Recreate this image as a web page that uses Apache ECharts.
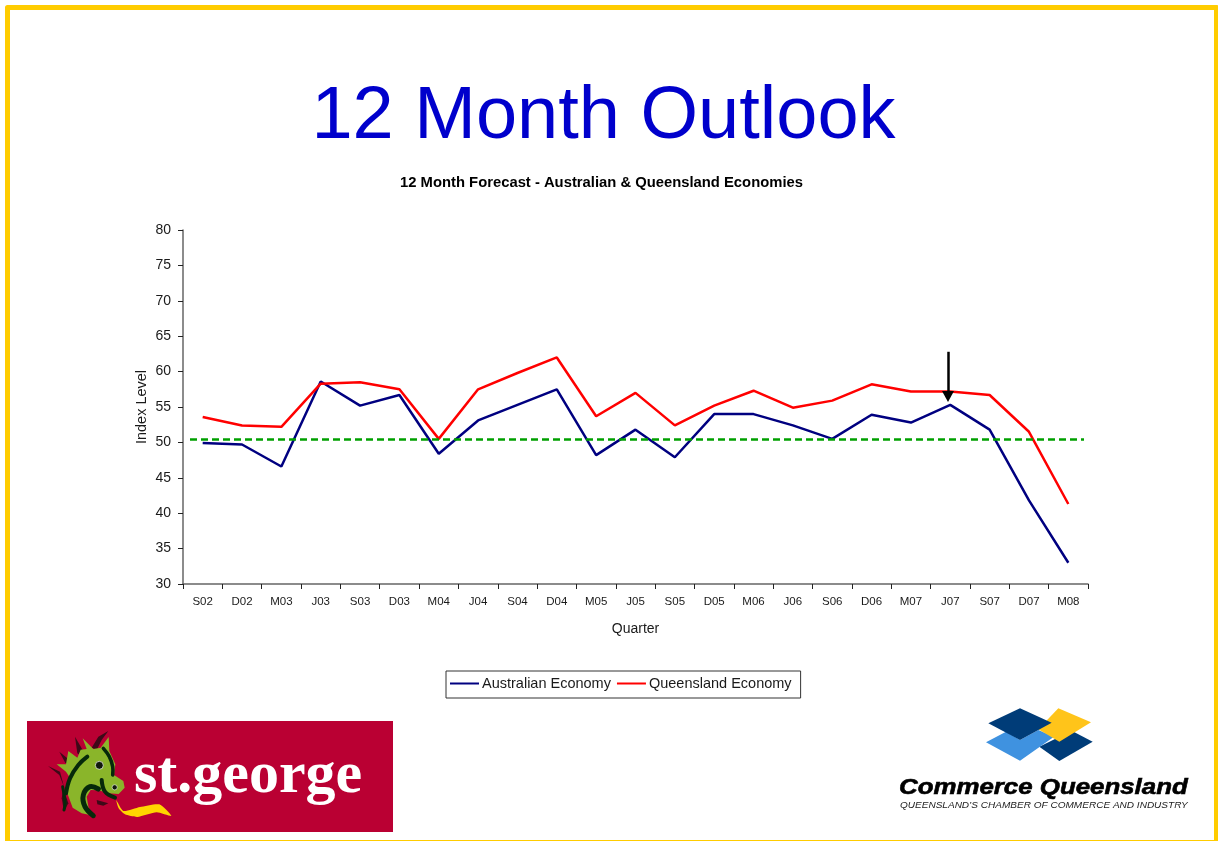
<!DOCTYPE html>
<html><head><meta charset="utf-8">
<style>html,body{margin:0;padding:0;background:#fff}#c{width:1218px;height:841px}</style>
<script src="https://cdn.jsdelivr.net/npm/echarts@6/dist/echarts.min.js"></script>
</head><body><div id="c"></div>
<script>
const quarters = ['S02','D02','M03','J03','S03','D03','M04','J04','S04','D04','M05','J05','S05','D05','M06','J06','S06','D06','M07','J07','S07','D07','M08'];
const australianEconomy = [49.9,49.7,46.6,58.6,55.2,56.7,48.4,53.1,55.3,57.5,48.2,51.8,47.9,54.0,54.0,52.4,50.5,53.9,52.8,55.3,51.8,41.8,33.0];
const queenslandEconomy = [53.6,52.4,52.2,58.3,58.5,57.5,50.5,57.5,59.8,62.0,53.7,57.0,52.4,55.2,57.3,54.9,55.9,58.2,57.2,57.2,56.7,51.5,41.3];
const neutralLevel = 50.4;
const arrowFrom = 62.8, arrowTo = 56.5, arrowQuarter = 'J07';

const FONT = '"Liberation Sans", Arial, sans-serif';
const TXT = '#1a1a1a';
const chart = echarts.init(document.getElementById('c'), null, {renderer:'canvas'});

function drag(x,y){return [40+x/3,725+y/3];}
function cq(x,y){return [880+x/3,690+y/3];}
function poly(map,pts,fill,smooth){return {type:'polygon',silent:true,z:10,shape:{points:pts.map(p=>map(p[0],p[1])),smooth:smooth||0},style:{fill}};}
function stroke(map,pts,color,w,smooth){return {type:'polyline',silent:true,z:11,shape:{points:pts.map(p=>map(p[0],p[1])),smooth:smooth||0},style:{stroke:color,lineWidth:w,fill:null,lineCap:'round',lineJoin:'round'}};}

const DARK='#06290a', MAROON='#3d0a18', GREEN='#8ab52a';
const logos = [
 {type:'rect',silent:true,z:1,shape:{x:7.5,y:7.5,width:1209,height:835},style:{fill:null,stroke:'#FFCC00',lineWidth:5,lineJoin:'round'}},
 {type:'rect',silent:true,z:5,shape:{x:27,y:721,width:366,height:111},style:{fill:'#BA0033'}},
 poly(drag,[[24,123],[60,140],[72,185],[58,150]],MAROON),
 poly(drag,[[58,80],[95,110],[100,130],[75,112]],MAROON),
 poly(drag,[[105,35],[128,75],[130,100],[112,85]],MAROON),
 poly(drag,[[205,18],[175,35],[155,68],[170,75],[185,45]],MAROON),
 poly(drag,[[70,190],[85,235],[72,258],[65,220]],MAROON),
 poly(drag,[[170,225],[205,235],[190,242],[172,238]],MAROON),
 poly(drag,[[128,40],[160,72],[182,68],[206,36],[208,78],[226,118],[222,150],[250,168],[254,188],[236,207],[205,205],[176,196],[152,195],[140,215],[146,250],[168,274],[125,265],[98,248],[82,205],[88,155],[78,140],[50,118],[78,118],[85,78],[112,98],[122,74],[140,72]],GREEN),
 stroke(drag,[[78,205],[90,160],[115,120],[142,95]],DARK,4,0.4),
 stroke(drag,[[160,272],[135,245],[130,210],[150,185],[175,192]],DARK,5,0.4),
 stroke(drag,[[190,70],[208,95],[218,125],[218,150]],DARK,3.5,0.4),
 stroke(drag,[[185,165],[195,200],[225,218]],DARK,4,0.4),
 stroke(drag,[[68,185],[75,235],[72,255]],DARK,3,0.4),
 {type:'circle',silent:true,z:12,shape:{cx:drag(178,121)[0],cy:drag(178,121)[1],r:4},style:{fill:'#10180c',stroke:'#e8efe0',lineWidth:0.8}},
 {type:'circle',silent:true,z:12,shape:{cx:drag(224,187)[0],cy:drag(224,187)[1],r:2.6},style:{fill:'#10180c',stroke:'#e8efe0',lineWidth:0.7}},
 poly(drag,[[229,226],[250,258],[300,246],[358,238],[394,273],[350,262],[292,276],[255,268],[236,250]],'#FFD500',0.2),
 {type:'text',silent:true,z:12,style:{text:'st.george',x:134,y:746,fill:'#fff',font:'bold 60px "Liberation Serif", serif',textAlign:'left'}},
 poly(cq,[[478,170],[575,122],[638,155],[538,213]],'#003C78'),
 poly(cq,[[318,157],[378,125],[420,150],[475,120],[522,140],[420,212]],'#3F92E0'),
 poly(cq,[[475,118],[535,55],[633,97],[538,155]],'#FFC41A'),
 poly(cq,[[325,100],[420,55],[515,98],[420,150]],'#003C78'),
 {type:'text',silent:true,z:12,x:899,y:777,scaleX:1.175,originX:0,originY:0,style:{text:'Commerce Queensland',x:0,y:0,fill:'#000',stroke:'#000',lineWidth:0.6,font:'italic bold 22px "Liberation Sans", Arial',textAlign:'left'}},
 {type:'text',silent:true,z:12,x:900,y:801,scaleX:1.18,originX:0,originY:0,style:{text:'QUEENSLAND\u2019S CHAMBER OF COMMERCE AND INDUSTRY',x:0,y:0,fill:'#222',font:'italic 8.5px "Liberation Sans", Arial',textAlign:'left'}}
];

chart.setOption({
  animation:false,
  backgroundColor:'#fff',
  title:[
    {text:'12 Month Outlook',left:598.5,top:76,textAlign:'center',textStyle:{fontFamily:FONT,fontSize:74,fontWeight:'normal',color:'#0000CC'}},
    {text:'12 Month Forecast - Australian & Queensland Economies',left:596.5,top:170,textAlign:'center',textStyle:{fontFamily:FONT,fontSize:14.8,fontWeight:'bold',color:'#000'}}
  ],
  legend:{
    left:446,top:671,orient:'horizontal',padding:[5,9,7,4],itemGap:6,itemWidth:29,itemHeight:2,icon:'rect',
    backgroundColor:'#fff',borderColor:'#333',borderWidth:1,borderRadius:0,
    textStyle:{fontFamily:FONT,fontSize:14.5,color:TXT,padding:[0,0,0,-2]},
    data:['Australian Economy','Queensland Economy']
  },
  grid:{left:183,top:230,width:905,height:354,containLabel:false},
  xAxis:{
    type:'category',data:quarters,boundaryGap:true,
    name:'Quarter',nameLocation:'middle',nameGap:38,
    nameTextStyle:{fontFamily:FONT,fontSize:14,color:TXT},
    axisLine:{lineStyle:{color:'#666',width:1.5}},
    axisTick:{show:true,interval:0,length:5,inside:false,lineStyle:{color:'#222',width:1}},
    axisLabel:{interval:0,margin:12,fontFamily:FONT,fontSize:11.5,color:TXT},
    splitLine:{show:false}
  },
  yAxis:{
    type:'value',min:30,max:80,interval:5,
    name:'Index Level',nameLocation:'middle',nameGap:34,nameMoveOverlap:false,
    nameTextStyle:{fontFamily:FONT,fontSize:14.5,color:TXT},
    axisLine:{show:true,lineStyle:{color:'#666',width:1.5}},
    axisTick:{show:true,length:5,lineStyle:{color:'#222',width:1}},
    axisLabel:{margin:12,fontFamily:FONT,fontSize:14,color:TXT},
    splitLine:{show:false}
  },
  series:[
    {name:'Australian Economy',type:'line',data:australianEconomy,symbol:'none',smooth:false,z:3,
     lineStyle:{color:'#000080',width:2.5},itemStyle:{color:'#000080'}},
    {name:'Queensland Economy',type:'line',data:queenslandEconomy,symbol:'none',smooth:false,z:3,
     lineStyle:{color:'#FF0000',width:2.5},itemStyle:{color:'#FF0000'},
     markLine:{silent:true,animation:false,label:{show:false},emphasis:{disabled:true},symbolSize:0,
       data:[
        [{coord:[quarters[0],neutralLevel],x:190,symbol:'none',lineStyle:{color:'#00A000',width:2.5,type:[7,4]}},
         {coord:[quarters[22],neutralLevel],x:1084,symbol:'none'}],
        [{coord:[arrowQuarter,arrowFrom],x:948,symbol:'none',symbolSize:0,lineStyle:{color:'#000',width:2.5,type:'solid'}},
         {coord:[arrowQuarter,arrowTo],x:948,symbol:'triangle',symbolSize:[12,11],symbolRotate:180}]
       ]}}
  ],
  graphic:{elements:logos}
});
</script></body></html>
